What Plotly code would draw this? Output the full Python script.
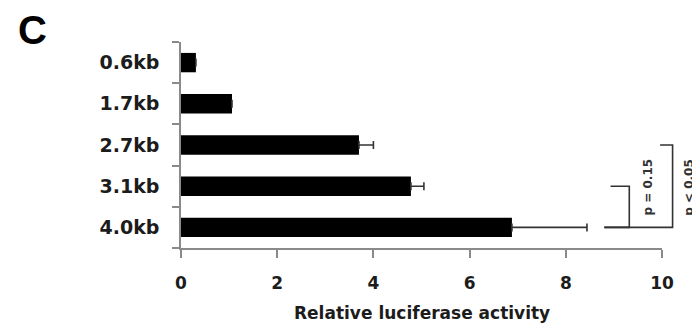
import plotly.graph_objects as go

categories = ["0.6kb", "1.7kb", "2.7kb", "3.1kb", "4.0kb"]
values = [0.31, 1.06, 3.70, 4.78, 6.88]
errors = [0.0, 0.0, 0.30, 0.27, 1.56]
x_ticks = [0, 2, 4, 6, 8, 10]

# significance brackets: (category from, category to, x_start, x_vertical, x_top_start, label, label_x)
brackets = [
    ("4.0kb", "3.1kb", 8.8, 9.32, 8.93, "p = 0.15", 9.71),
    ("4.0kb", "2.7kb", 8.8, 10.22, 9.96, "p < 0.05", 10.57),
]
label_level = 3.03  # category position of the p-value text centres

FONT = "DejaVu Sans"
TXT = "#1c1c1c"
AX = "#8a8a8a"

# page body has an 8px margin; keep the figure inside the 700x324 window
OFF = 8
W = 700 - OFF
H = 324 - OFF
# desired plot area in window pixels: x 181..662, y 42..248
L = 181 - OFF
R = W - (662 - OFF)
T = 42 - OFF
B = H - (248 - OFF)
plot_w = W - L - R
plot_h = H - T - B
n = len(categories)
xmax = x_ticks[-1]

def ypaper_pos(pos):
    # pos: category index (0 = top)
    return 1 - (pos + 0.5) / n

fig = go.Figure()
fig.add_trace(go.Bar(
    y=categories, x=values, orientation="h",
    marker=dict(color="black", line=dict(width=0)),
    width=0.47,
    error_x=dict(type="data", array=errors, arrayminus=[0] * len(errors),
                 symmetric=False, color="#333333", thickness=1.6, width=4),
))

shapes = []
annotations = []
for c_from, c_to, xs, xv, xt, label, lx in brackets:
    y0 = ypaper_pos(categories.index(c_from))
    y1 = ypaper_pos(categories.index(c_to))
    shapes.append(dict(type="path", xref="paper", yref="paper",
                       path=f"M {xs / xmax},{y0} L {xv / xmax},{y0} L {xv / xmax},{y1} L {xt / xmax},{y1}",
                       line=dict(color="#333333", width=1.6)))
    annotations.append(dict(xref="paper", yref="paper", x=lx / xmax,
                            y=ypaper_pos(label_level), xanchor="center", yanchor="middle",
                            text=label, textangle=-90, showarrow=False,
                            font=dict(family=FONT, size=12, color="#333333", weight="bold")))

# panel letter
annotations.append(dict(xref="paper", yref="paper",
                        x=(32 - OFF - L) / plot_w, y=(H - B - (30 - OFF)) / plot_h,
                        xanchor="center", yanchor="middle", text="C", showarrow=False,
                        font=dict(family="Liberation Sans", size=40, color="black", weight="bold")))
# x-axis title
annotations.append(dict(xref="paper", yref="paper", x=0.5,
                        y=(H - B - (313 - OFF)) / plot_h,
                        xanchor="center", yanchor="middle",
                        text="Relative luciferase activity", showarrow=False,
                        font=dict(family=FONT, size=17, color=TXT, weight="bold")))

fig.update_layout(
    width=W, height=H,
    margin=dict(l=L, r=R, t=T, b=B, autoexpand=False),
    plot_bgcolor="white", paper_bgcolor="white",
    showlegend=False,
    shapes=shapes, annotations=annotations,
    xaxis=dict(range=[0, xmax], tickvals=x_ticks, showgrid=False, zeroline=False,
               showline=True, linecolor=AX, linewidth=1.5,
               ticks="outside", ticklen=8, tickcolor=AX, tickwidth=1.5,
               ticklabelstandoff=11,
               tickfont=dict(family=FONT, size=17, color=TXT, weight="bold")),
    yaxis=dict(categoryorder="array", categoryarray=categories[::-1],
               range=[-0.5, n - 0.5], showgrid=False, zeroline=False,
               showline=True, linecolor=AX, linewidth=1.5,
               ticks="outside", tickson="boundaries", ticklen=7, tickcolor=AX, tickwidth=1.5,
               ticklabelstandoff=16,
               tickfont=dict(family=FONT, size=19, color=TXT, weight="bold")),
)

fig.write_html("out.html")
